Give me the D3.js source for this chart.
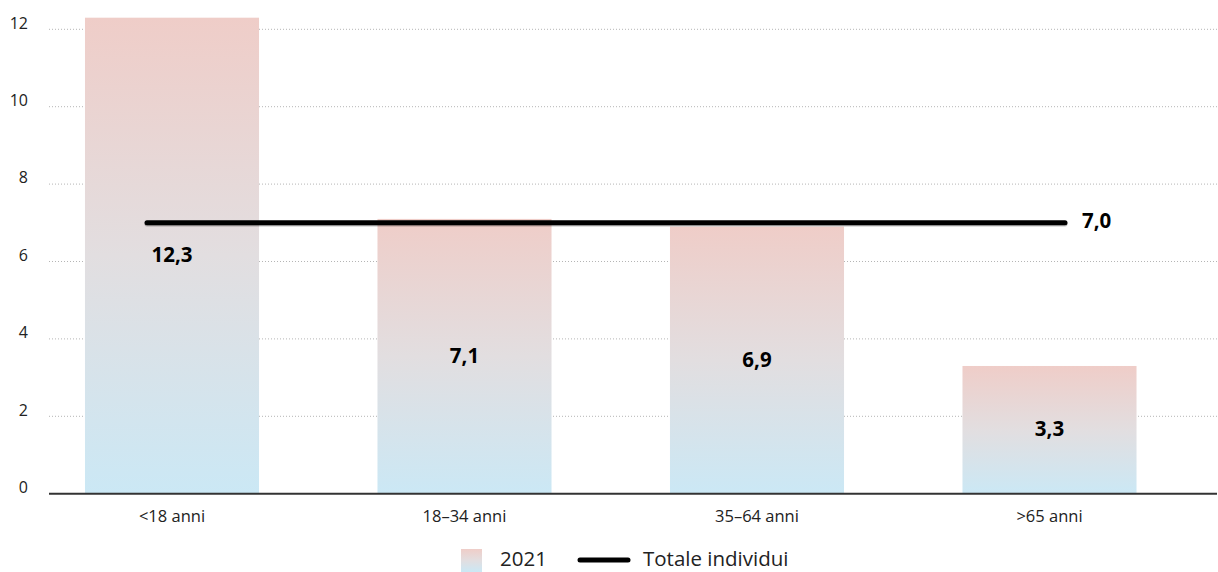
<!DOCTYPE html>
<html>
<head>
<meta charset="utf-8">
<script src="https://cdn.jsdelivr.net/npm/d3@7"></script>
<style>
  html, body { margin: 0; padding: 0; background: #fff; }
  svg { display: block; font-family: "Open Sans", "Lato", sans-serif; }
</style>
</head>
<body>
<svg id="chart" width="1218" height="572"></svg>
<script>
// Age groups and share per group (2021), with the overall total
const categories = ["<18 anni", "18-34 anni", "35-64 anni", ">65 anni"];
const values2021 = [12.3, 7.1, 6.9, 3.3];
const totalValue = 7.0;
const yTicks = [0, 2, 4, 6, 8, 10, 12];
const legendLabels = ["2021", "Totale individui"];

const fmt = v => d3.format(".1f")(v).replace(".", ",");

const svg = d3.select("#chart");
const W = 1218;

const y = d3.scaleLinear().domain([0, 12]).range([493.7, 29.3]);
const x = d3.scaleBand()
  .domain(categories)
  .range([25.75, 1195.75])
  .paddingInner(0.405)
  .paddingOuter(0.2025);
const xLine = d3.scalePoint().domain(categories).range([147, 1065]);

// gradient for bars and legend swatch
const defs = svg.append("defs");
const grad = defs.append("linearGradient")
  .attr("id", "barGrad").attr("x1", 0).attr("y1", 0).attr("x2", 0).attr("y2", 1);
grad.append("stop").attr("offset", "0%").attr("stop-color", "#efcdc8");
grad.append("stop").attr("offset", "50%").attr("stop-color", "#e2dee0");
grad.append("stop").attr("offset", "100%").attr("stop-color", "#cbe8f5");

// dotted gridlines
svg.append("g").selectAll("line")
  .data(yTicks.filter(d => d > 0))
  .join("line")
  .attr("x1", 49).attr("x2", W)
  .attr("y1", d => y(d)).attr("y2", d => y(d))
  .attr("stroke", "#b5b5b5").attr("stroke-width", 1)
  .attr("stroke-dasharray", "1,2");

// y tick labels
svg.append("g").selectAll("text")
  .data(yTicks)
  .join("text")
  .attr("x", 28).attr("y", d => y(d) - 5)
  .attr("text-anchor", "end")
  .attr("dominant-baseline", "middle")
  .attr("font-size", 16).attr("fill", "#222")
  .text(d => d);

// bars
svg.append("g").selectAll("rect")
  .data(values2021)
  .join("rect")
  .attr("x", (d, i) => x(categories[i]))
  .attr("width", x.bandwidth())
  .attr("y", d => y(d))
  .attr("height", d => y(0) - y(d))
  .attr("fill", "url(#barGrad)");

// baseline axis
svg.append("line")
  .attr("x1", 49).attr("x2", 1217)
  .attr("y1", y(0)).attr("y2", y(0))
  .attr("stroke", "#333").attr("stroke-width", 2);

// category labels
svg.append("g").selectAll("text")
  .data(categories)
  .join("text")
  .attr("x", d => x(d) + x.bandwidth() / 2)
  .attr("y", 518)
  .attr("text-anchor", "middle")
  .attr("dominant-baseline", "middle")
  .attr("font-size", 16.5).attr("fill", "#222")
  .text(d => d.replace("-", "–"));

// total line, with a soft shadow underneath
const lineGen = d3.line().x(d => xLine(d)).y(() => y(totalValue));
svg.append("path")
  .attr("d", lineGen(categories))
  .attr("transform", "translate(0,1.3)")
  .attr("fill", "none")
  .attr("stroke", "#000").attr("stroke-opacity", 0.25).attr("stroke-width", 5)
  .attr("stroke-linecap", "round");
svg.append("path")
  .attr("d", lineGen(categories))
  .attr("fill", "none")
  .attr("stroke", "#000").attr("stroke-width", 5)
  .attr("stroke-linecap", "round");

svg.append("text")
  .attr("x", xLine(categories[categories.length - 1]) + 17)
  .attr("y", y(totalValue))
  .attr("dominant-baseline", "middle")
  .attr("font-size", 20.5).attr("font-weight", "bold").attr("fill", "#000")
  .text(fmt(totalValue));

// value labels at bar middle
svg.append("g").selectAll("text")
  .data(values2021)
  .join("text")
  .attr("x", (d, i) => x(categories[i]) + x.bandwidth() / 2)
  .attr("y", d => (y(d) + y(0)) / 2 + 1)
  .attr("text-anchor", "middle")
  .attr("dominant-baseline", "middle")
  .attr("font-size", 20.5).attr("font-weight", "bold").attr("fill", "#000")
  .text(d => fmt(d));

// legend
const lg = svg.append("g");
lg.append("rect")
  .attr("x", 461).attr("y", 549).attr("width", 21).attr("height", 23)
  .attr("fill", "url(#barGrad)");
lg.append("text")
  .attr("x", 500).attr("y", 561)
  .attr("dominant-baseline", "middle")
  .attr("font-size", 20.5).attr("fill", "#222")
  .text(legendLabels[0]);
lg.append("line")
  .attr("x1", 580).attr("x2", 628).attr("y1", 560).attr("y2", 560)
  .attr("stroke", "#000").attr("stroke-width", 5).attr("stroke-linecap", "round");
lg.append("text")
  .attr("x", 643).attr("y", 561)
  .attr("dominant-baseline", "middle")
  .attr("font-size", 20.5).attr("fill", "#222")
  .text(legendLabels[1]);
</script>
</body>
</html>
